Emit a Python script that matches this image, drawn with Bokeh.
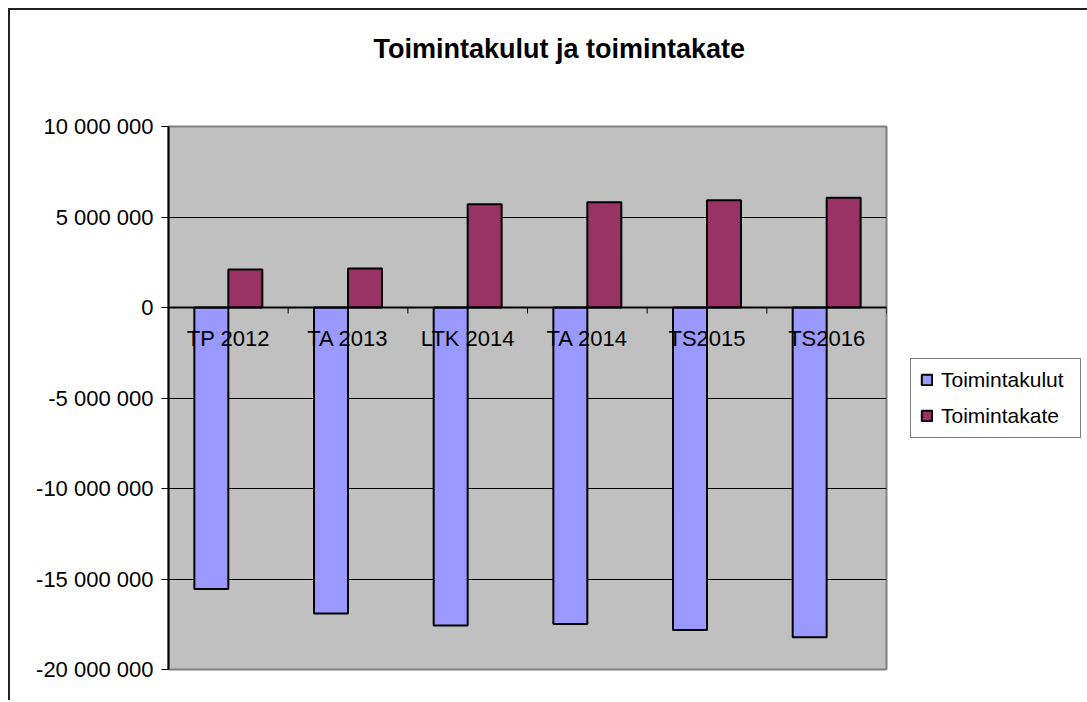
from bokeh.plotting import figure
from bokeh.models import FactorRange, Range1d, FixedTicker, Legend, LegendItem, ColumnDataSource, Title
from bokeh.transform import dodge
from bokeh.embed import file_html
from bokeh.resources import INLINE

# ---- data ----
categories = ["TP 2012", "TA 2013", "LTK 2014", "TA 2014", "TS2015", "TS2016"]
toimintakulut = [-15_550_000, -16_900_000, -17_570_000, -17_480_000, -17_820_000, -18_220_000]
toimintakate = [2_100_000, 2_150_000, 5_700_000, 5_810_000, 5_920_000, 6_070_000]
y_ticks = [-20_000_000, -15_000_000, -10_000_000, -5_000_000, 0, 5_000_000, 10_000_000]
y_tick_labels = ["-20 000 000", "-15 000 000", "-10 000 000", "-5 000 000", "0", "5 000 000", "10 000 000"]
title_text = "Toimintakulut ja toimintakate"
series_names = ["Toimintakulut", "Toimintakate"]

FONT = "Liberation Sans"
BLUE = "#9999FF"
MAROON = "#993366"

src = ColumnDataSource(dict(cat=categories, kulut=toimintakulut, kate=toimintakate,
                            tick_bottom=[-330_000] * len(categories), zero=[0] * len(categories)))

p = figure(x_range=FactorRange(*categories, range_padding=0, factor_padding=0),
           y_range=Range1d(y_ticks[0], y_ticks[-1]),
           frame_width=718, frame_height=543, output_backend="svg", toolbar_location=None,
           min_border_left=158, min_border_right=199, min_border_top=116, min_border_bottom=31)
p.styles = {"border-left": "2px solid #222222", "border-top": "2px solid #222222",
            "margin-left": "8px", "margin-top": "8px"}

p.background_fill_color = "#C0C0C0"
p.border_fill_color = "white"
p.outline_line_color = "#808080"
p.outline_line_width = 2

p.title.text = title_text
p.title.align = "left"
p.title.offset = 205
p.title.vertical_align = "bottom"
p.title.text_font = FONT
p.title.text_font_size = "27px"
p.title.text_font_style = "bold"
p.title.text_color = "black"
p.title.standoff = 0

# blank spacer between the title and the plot area
p.add_layout(Title(text=" ", text_font_size="10px", standoff=50), "above")

w = 0.284
r1 = p.vbar(x=dodge("cat", -w / 2, range=p.x_range), top="kulut", bottom=0, width=w, source=src,
            fill_color=BLUE, line_color="black", line_width=2)
r2 = p.vbar(x=dodge("cat", w / 2, range=p.x_range), top="kate", bottom=0, width=w, source=src,
            fill_color=MAROON, line_color="black", line_width=2)

# category boundary tick marks below the zero line
p.segment(x0=dodge("cat", 0.5, range=p.x_range), x1=dodge("cat", 0.5, range=p.x_range),
          y0="zero", y1="tick_bottom", source=src, line_color="black", line_width=1)

# y axis
ticker = FixedTicker(ticks=y_ticks)
p.yaxis.ticker = ticker
p.yaxis.major_label_overrides = {t: l for t, l in zip(y_ticks, y_tick_labels)}
p.yaxis.major_label_text_font = FONT
p.yaxis.major_label_text_font_size = "22px"
p.yaxis.major_label_text_color = "black"
p.yaxis.axis_line_color = "black"
p.yaxis.axis_line_width = 2
p.yaxis.major_tick_out = 7
p.yaxis.major_tick_in = 0
p.yaxis.major_tick_line_color = "black"
p.yaxis.minor_tick_line_color = None
p.yaxis.major_label_standoff = 8

p.ygrid.ticker = ticker
p.ygrid.grid_line_color = "black"
p.ygrid.grid_line_width = 1
p.xgrid.visible = False

# x axis crossing at zero
p.xaxis.fixed_location = 0
p.xaxis.axis_line_color = "black"
p.xaxis.axis_line_width = 2
p.xaxis.major_tick_line_color = None
p.xaxis.minor_tick_line_color = None
p.xaxis.major_label_standoff = 12
p.xaxis.major_label_text_font = FONT
p.xaxis.major_label_text_font_size = "22px"
p.xaxis.major_label_text_color = "black"

legend = Legend(items=[LegendItem(label=series_names[0], renderers=[r1]),
                       LegendItem(label=series_names[1], renderers=[r2])],
                location="center_left", orientation="vertical",
                border_line_color="black", border_line_width=1,
                background_fill_color="white", background_fill_alpha=1,
                label_text_font=FONT, label_text_font_size="21px", label_text_color="black",
                glyph_width=13, glyph_height=13, label_standoff=8, label_width=130,
                spacing=12, padding=9, margin=24)
p.add_layout(legend, "right")

open("out.html", "w").write(file_html(p, INLINE))
